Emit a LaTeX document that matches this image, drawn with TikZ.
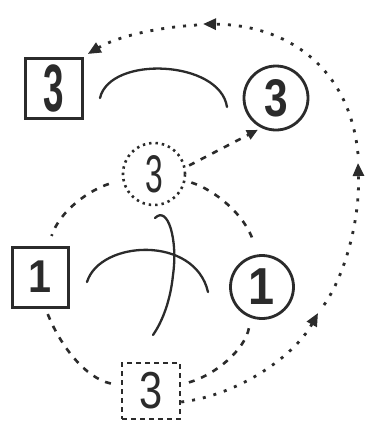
\documentclass[tikz,border=0pt]{standalone}
\usepackage{fontspec}
\setmainfont{Liberation Sans}
\usepackage{graphicx}
\usetikzlibrary{arrows.meta}
\newcommand\mydigit[3]{\fontsize{#1}{#1}\selectfont\scalebox{#2}[1]{#3}}
\definecolor{ink}{gray}{0.17}
\begin{document}
\begin{tikzpicture}[x=1pt,y=-1pt,
  every node/.style={inner sep=0pt,text=ink},
  sqbox/.style={draw=ink,line width=3pt,rectangle,font=\bfseries},
  circbox/.style={draw=ink,line width=2.8pt,circle,font=\bfseries},
  dotcirc/.style={draw=ink,line width=2.6pt,circle,dash pattern=on 2.4pt off 4pt},
  dashsq/.style={draw=ink,line width=2.4pt,rectangle,dash pattern=on 5pt off 4pt},
  dsh/.style={draw=ink,line width=2.6pt,dash pattern=on 6pt off 7pt},
  bigdot/.style={draw=ink,line width=2.8pt,dash pattern=on 3pt off 8pt,-{Triangle[length=13pt,width=11pt]}},
  strand/.style={draw=ink,line width=2.3pt,line cap=round}]
\useasboundingbox (0,0) rectangle (369,421);
\fill[white] (0,0) rectangle (369,421);

\node[sqbox,minimum width=57pt,minimum height=60pt] (sq3) at (53.5,88) {\mydigit{67}{0.55}{3}};
\node[circbox,minimum size=64pt] (c3) at (276,98) {\mydigit{53}{0.8}{3}};
\node[dotcirc,minimum size=62pt] (dc) at (154,174) {\mydigit{53}{0.6}{3}};
\node[sqbox,minimum width=56pt,minimum height=60pt] (sq1) at (40,277) {\mydigit{46}{0.9}{1}};
\node[circbox,minimum size=63pt] (c1) at (262,287) {\mydigit{52}{0.9}{1}};
\node[dashsq,minimum width=58pt,minimum height=56pt] (ds) at (151,391) {\mydigit{52}{0.8}{3}};

% solid strands
\draw[strand] (100,98) .. controls (110,55) and (220,60) .. (227,107);
\draw[strand] (87,282) .. controls (100,240) and (195,235) .. (208,292);
\draw[strand] (155,218) .. controls (168,205) and (178,240) .. (173,275)
  .. controls (170,305) and (160,325) .. (153,335);

% dashed connectors
\draw[dsh,-{Triangle[length=11pt,width=10pt]},shorten <=4pt,shorten >=4pt] (dc.12) -- (c3.244);
\draw[dsh,shorten <=14pt,shorten >=10pt] (dc.190) .. controls (90,190) and (60,210) .. (sq1.75);
\draw[dsh,shorten <=6pt,shorten >=14pt] (dc.-12) .. controls (215,190) and (245,215) .. (c1.98);
\draw[dsh,shorten <=6pt,shorten >=10pt] (sq1.-80) .. controls (60,345) and (85,378) .. (ds.170);
\draw[dsh,shorten <=8pt,shorten >=10pt] (ds.12) .. controls (215,375) and (245,350) .. (c1.-110);

% big dotted loop
\coordinate (a1) at (318,313);
\coordinate (b0) at (324,305);
\coordinate (b1) at (358,163);
\coordinate (c0) at (358,154);
\coordinate (t1) at (203,24);
\coordinate (d0) at (197,25);
\draw[bigdot] (ds.-20) .. controls (240,395) and (295,355) .. (a1);
\draw[bigdot] (b0) .. controls (345,275) and (360,220) .. (b1);
\draw[bigdot] (c0) .. controls (350,70) and (290,25) .. (t1);
\draw[bigdot,shorten >=5pt] (d0) .. controls (150,28) and (115,38) .. (sq3.north east);
\end{tikzpicture}
\end{document}
